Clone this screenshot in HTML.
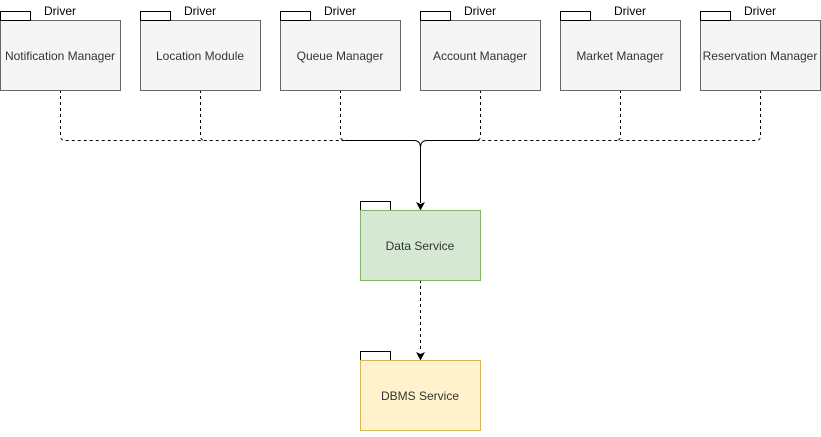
<!DOCTYPE html>
<html><head><style>body{margin:0;background:#fff}</style></head><body>
<svg width="821" height="432" viewBox="0 0 821 432" xmlns="http://www.w3.org/2000/svg" font-family="Liberation Sans, sans-serif" font-size="12">
<g fill="none" stroke="#000" stroke-dasharray="3,3">
<path d="M60.5,90 V136 Q60.5,140.5 65,140.5 H345"/>
<path d="M200.5,90 V136 Q200.5,140.5 205,140.5"/>
<path d="M340.5,90 V136 Q340.5,140.5 345,140.5"/>
<path d="M480.5,90 V136 Q480.5,140.5 476,140.5"/>
<path d="M620.5,90 V136 Q620.5,140.5 616,140.5"/>
<path d="M760.5,90 V136 Q760.5,140.5 756,140.5 H476"/>
<path d="M420.5,280 V352"/>
</g>
<path d="M345,140.5 H414 Q420.5,140.5 420.5,148 V203" fill="none" stroke="#000"/>
<path d="M476,140.5 H427 Q420.5,140.5 420.5,148" fill="none" stroke="#000"/>
<path d="M416,202 L420.5,204 L425,202 L420.5,210.5 Z" fill="#000"/>
<path d="M416,352 L420.5,354 L425,352 L420.5,360.5 Z" fill="#000"/>
<g stroke="#666" fill="#f5f5f5">
<rect x="0.5" y="20.5" width="120" height="70"/><rect x="140.5" y="20.5" width="120" height="70"/>
<rect x="280.5" y="20.5" width="120" height="70"/><rect x="420.5" y="20.5" width="120" height="70"/>
<rect x="560.5" y="20.5" width="120" height="70"/><rect x="700.5" y="20.5" width="120" height="70"/>
</g>
<g stroke="#000" fill="#fff">
<rect x="0.5" y="11.5" width="30" height="9"/><rect x="140.5" y="11.5" width="30" height="9"/>
<rect x="280.5" y="11.5" width="30" height="9"/><rect x="420.5" y="11.5" width="30" height="9"/>
<rect x="560.5" y="11.5" width="30" height="9"/><rect x="700.5" y="11.5" width="30" height="9"/>
<rect x="360.5" y="201.5" width="30" height="9"/><rect x="360.5" y="351.5" width="30" height="9"/>
</g>
<rect x="360.5" y="210.5" width="120" height="70" fill="#d5e8d4" stroke="#82b366"/>
<rect x="360.5" y="360.5" width="120" height="70" fill="#fff2cc" stroke="#d6b656"/>
<g fill="#000">
<text x="44" y="15">Driver</text><text x="184" y="15">Driver</text><text x="324" y="15">Driver</text>
<text x="464" y="15">Driver</text><text x="614" y="15">Driver</text><text x="744" y="15">Driver</text>
</g>
<g fill="#333" text-anchor="middle">
<text x="60" y="60">Notification Manager</text><text x="200" y="60">Location Module</text>
<text x="340" y="60">Queue Manager</text><text x="480" y="60">Account Manager</text>
<text x="620" y="60">Market Manager</text><text x="760" y="60">Reservation Manager</text>
<text x="420" y="250">Data Service</text><text x="420" y="400">DBMS Service</text>
</g>
</svg>
</body></html>
